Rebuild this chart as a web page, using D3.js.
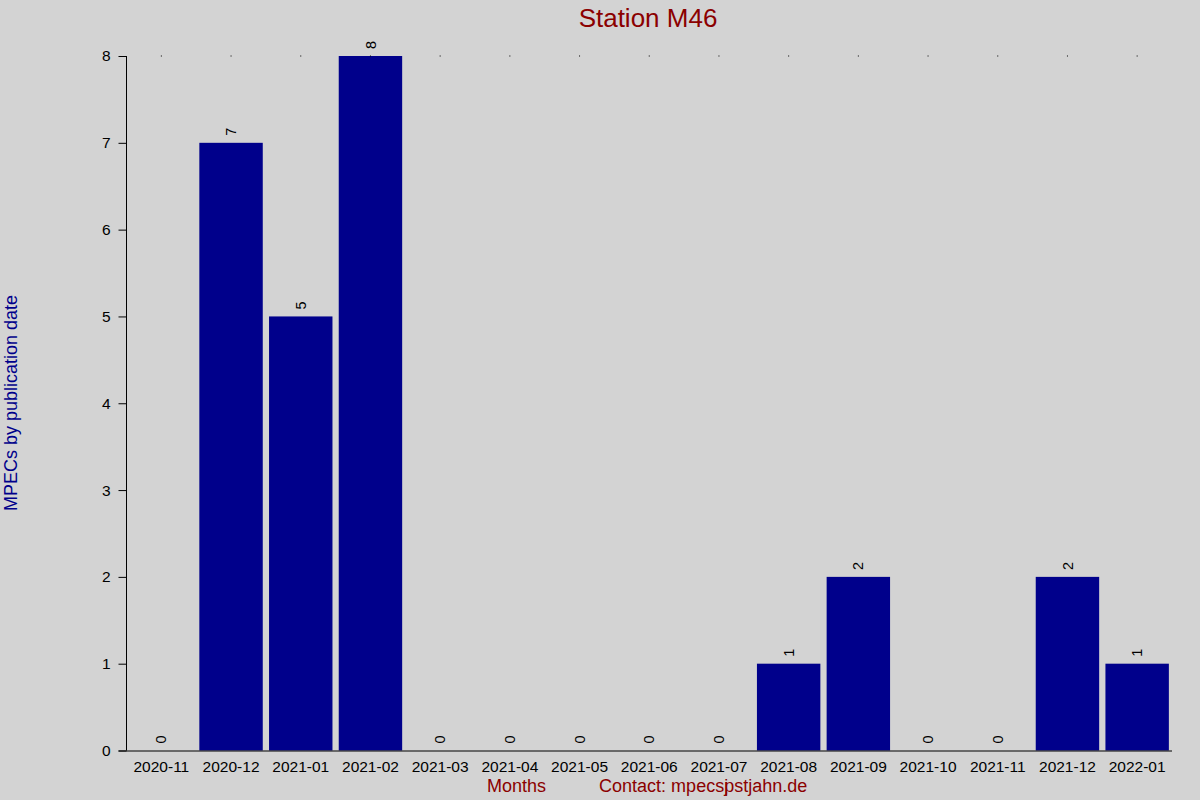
<!DOCTYPE html>
<html>
<head>
<meta charset="utf-8">
<script src="https://cdn.jsdelivr.net/npm/d3@7"></script>
<style>
  html, body { margin: 0; padding: 0; background: #d3d3d3; }
  svg { display: block; font-family: "Liberation Sans", Arial, sans-serif; }
</style>
</head>
<body>
<svg id="chart" width="1200" height="800"></svg>
<script>
// data
const months = ['2020-11', '2020-12', '2021-01', '2021-02', '2021-03', '2021-04', '2021-05', '2021-06',
                '2021-07', '2021-08', '2021-09', '2021-10', '2021-11', '2021-12', '2022-01'];
const counts = [0, 7, 5, 8, 0, 0, 0, 0, 0, 1, 2, 0, 0, 2, 1];
const yTicks = [0, 1, 2, 3, 4, 5, 6, 7, 8];

const svg = d3.select('#chart');
const plotLeft = 126.5, plotRight = 1172, plotTop = 56, plotBottom = 750.5;

svg.append('rect').attr('width', 1200).attr('height', 800).attr('fill', '#d3d3d3');

const x = d3.scaleBand()
    .domain(months)
    .range([plotLeft, plotRight])
    .paddingInner(0.09)
    .paddingOuter(0.045);

const y = d3.scaleLinear().domain([0, 8]).range([plotBottom, plotTop]);

// bars
svg.selectAll('rect.bar')
    .data(counts)
    .enter()
    .append('rect')
    .attr('class', 'bar')
    .attr('x', (d, i) => x(months[i]))
    .attr('y', d => y(d))
    .attr('width', x.bandwidth())
    .attr('height', d => y(0) - y(d))
    .attr('fill', '#00008b');

// value labels, rotated
svg.selectAll('text.val')
    .data(counts)
    .enter()
    .append('text')
    .attr('class', 'val')
    .attr('transform', (d, i) => `translate(${x(months[i]) + x.bandwidth() / 2},${y(d) - 7}) rotate(-90)`)
    .attr('dy', '0.35em')
    .attr('font-size', 14.5)
    .attr('fill', '#000')
    .text(d => d);

// little dots along the top
svg.selectAll('rect.dot')
    .data(months)
    .enter()
    .append('rect')
    .attr('class', 'dot')
    .attr('x', d => x(d) + x.bandwidth() / 2 - 0.5)
    .attr('y', y(8) - 0.5)
    .attr('width', 1)
    .attr('height', 1)
    .attr('fill', '#000');

// y axis
const yAxis = svg.append('g')
    .attr('transform', `translate(${plotLeft},0)`)
    .call(d3.axisLeft(y).tickValues(yTicks).tickSize(8).tickPadding(8).tickFormat(d3.format('d')));
yAxis.selectAll('text').attr('font-size', 15.5).attr('fill', '#000').attr('font-family', null);
yAxis.selectAll('line').attr('stroke', '#000');
yAxis.select('.domain').attr('d', `M0,${plotTop}V${plotBottom}`).attr('stroke', '#000');

// x axis
const xAxis = svg.append('g')
    .attr('transform', `translate(0,${plotBottom})`)
    .call(d3.axisBottom(x).tickSize(0).tickPadding(8));
xAxis.selectAll('text').attr('font-size', 15.5).attr('fill', '#000').attr('font-family', null).attr('dy', '0.9em');
xAxis.select('.domain').attr('d', `M${plotLeft - 8},0.5H${plotRight}`).attr('stroke', '#000');

// title and axis labels
svg.append('text')
    .attr('x', 648).attr('y', 27)
    .attr('text-anchor', 'middle')
    .attr('font-size', 26)
    .attr('fill', '#8b0000')
    .text('Station M46');

svg.append('text')
    .attr('transform', 'translate(17,403) rotate(-90)')
    .attr('text-anchor', 'middle')
    .attr('font-size', 18)
    .attr('fill', '#00008b')
    .text('MPECs by publication date');

svg.append('text')
    .attr('x', 487).attr('y', 792)
    .attr('font-size', 18)
    .attr('fill', '#8b0000')
    .text('Months');

// the "j" sits over the following "p", as in the original
const contactText = 'Contact: mpecsjpstjahn.de';
const contactDx = contactText.split('').map((c, i) => (i === 15 ? -4 : 0)).join(' ');
svg.append('text')
    .attr('x', 599).attr('y', 792)
    .attr('dx', contactDx)
    .attr('font-size', 18)
    .attr('fill', '#8b0000')
    .text(contactText);
</script>
</body>
</html>
